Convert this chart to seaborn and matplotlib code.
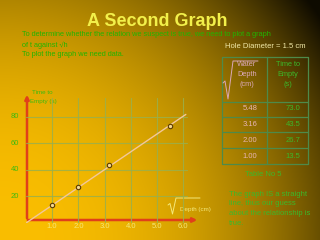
import numpy as np
import pandas as pd
import matplotlib
matplotlib.use("Agg")
import matplotlib.pyplot as plt
import seaborn as sns

# ---- data ----
sqrt_depth = [5.48, 3.16, 2.00, 1.00]
time_empty = [73.0, 43.5, 26.7, 13.5]
x_ticks = [1.0, 2.0, 3.0, 4.0, 5.0, 6.0]
y_ticks = [20, 40, 60, 80]
fit_x = [0.0, 6.1]
fit_y = [0.0, 81.6]

sns.set_style("white")
plt.rcParams['font.family'] = ['Liberation Sans', 'DejaVu Sans']

W, H = 320, 240
fig = plt.figure(figsize=(3.2, 2.4), dpi=100)

def fx(px):
    return px / W

def fy(py):
    return 1 - py / H

# background gradient (radial from bottom-left)
bg = fig.add_axes([0, 0, 1, 1])
yy, xx = np.mgrid[0:H, 0:W]
d = np.sqrt(xx ** 2 + (H - yy) ** 2) / np.sqrt(W ** 2 + H ** 2)
r = np.clip(1 - d ** 2.4, 0.06, 1)
base = np.array([250, 190, 0]) / 255.0
img = r[..., None] * base[None, None, :]
bg.imshow(img, extent=[0, W, H, 0], aspect='auto', zorder=0)
bg.set_xlim(0, W)
bg.set_ylim(H, 0)
bg.axis('off')

# chart axes
ax = fig.add_axes([fx(26), fy(223), 170.3 / W, 126.4 / H])
ax.set_facecolor('none')
ax.set_xlim(0, 6.5)
ax.set_ylim(0, 95)
for s in ax.spines.values():
    s.set_visible(False)
ax.set_xticks([])
ax.set_yticks([])

grid_c = '#9ab04c'
for xv in x_ticks:
    ax.plot([xv, xv], [0, 94], color=grid_c, lw=0.8, alpha=0.85, zorder=1)
for yv in y_ticks:
    ax.plot([0, 6.15], [yv, yv], color=grid_c, lw=0.8, alpha=0.85, zorder=1)

df_fit = pd.DataFrame({'x': fit_x, 'y': fit_y})
sns.lineplot(data=df_fit, x='x', y='y', ax=ax, color='#f2c79a', lw=1.0, zorder=2)
df = pd.DataFrame({'x': sqrt_depth, 'y': time_empty})
sns.scatterplot(data=df, x='x', y='y', ax=ax, s=10, marker='o',
                facecolor='#f5d890', edgecolor='#5a3a00', linewidth=0.8, zorder=3)
ax.set_xlabel('')
ax.set_ylabel('')

for xv in x_ticks:
    ax.text(xv, -2.6, f'{xv:.1f}', ha='center', va='center', fontsize=5.5,
            color='#f4e87a', clip_on=False)
for yv in y_ticks:
    ax.text(-0.25, yv, f'{yv}', ha='right', va='center', fontsize=5.5,
            color='#3dbb10', clip_on=False)

# red axes arrows (figure pixel coords)
red = '#e0401a'
bg.annotate('', xy=(27, 92), xytext=(27, 221),
            arrowprops=dict(arrowstyle='-|>', color=red, lw=1.8, mutation_scale=6))
bg.annotate('', xy=(200, 220), xytext=(25, 220),
            arrowprops=dict(arrowstyle='-|>', color=red, lw=1.8, mutation_scale=6))

# y label
bg.text(32, 93, 'Time to', fontsize=4.5, color='#3dbb10', va='center', ha='left')
bg.text(30, 101, 'Empty (s)', fontsize=4.5, color='#3dbb10', va='center', ha='left')

# x label with sqrt sign
bg.plot([168, 170, 172.5, 176, 200], [205, 203.5, 214, 198, 198], color='#f4e87a', lw=0.7)
bg.text(180, 210, 'Depth (cm)', fontsize=4.5, color='#f4e87a', va='center', ha='left')

# title
bg.text(157, 22, 'A Second Graph', fontsize=13, fontweight='bold', color='#f2f04a',
        ha='center', va='center')

# green intro text
green = '#22b400'
bg.text(22, 35, 'To determine whether the relation we suspect is true, we need to plot a graph',
        fontsize=5.3, color=green, va='center', ha='left')
bg.text(22, 45, 'of t against \u221ah', fontsize=5.3, color=green, va='center', ha='left')
bg.text(22, 55, 'To plot the graph we need data.', fontsize=5.3, color=green, va='center', ha='left')

bg.text(265, 47, 'Hole Diameter = 1.5 cm', fontsize=5.5, color='#f0e8a8',
        va='center', ha='center')

# table
tc = '#4e8a4a'
tl, tr, tm = 222, 308, 267
rows_y = [57, 102, 117, 132, 148, 164]
for yv in rows_y:
    bg.plot([tl, tr], [yv, yv], color=tc, lw=0.9)
for xv in (tl, tm, tr):
    bg.plot([xv, xv], [rows_y[0], rows_y[-1]], color=tc, lw=0.9)

pink = '#dba8b8'
tgreen = '#3cb82a'
bg.plot([223, 225, 228, 233, 258], [83, 81, 99, 61, 61], color=pink, lw=0.7)
for i, t in enumerate(['Water', 'Depth', '(cm)']):
    bg.text(247, 65 + i * 10, t, fontsize=5.3, color=pink, ha='center', va='center')
for i, t in enumerate(['Time to', 'Empty', '(s)']):
    bg.text(288, 65 + i * 10, t, fontsize=5.3, color=tgreen, ha='center', va='center')
val_y = [109, 125, 140, 156]
for i in range(len(sqrt_depth)):
    bg.text(250, val_y[i], f'{sqrt_depth[i]:.2f}', fontsize=5.5, color='#e8b4b4',
            ha='center', va='center')
    bg.text(293, val_y[i], f'{time_empty[i]:.1f}', fontsize=5.5, color=tgreen,
            ha='center', va='center')

bg.text(263, 174, 'Table No 5', fontsize=5.5, color=tgreen, ha='center', va='center')
for i, t in enumerate(['The graph IS a straight', 'line, thus our guess',
                       'about the relationship is', 'true.']):
    bg.text(229, 194 + i * 9.7, t, fontsize=5.5, color=tgreen, ha='left', va='center')

fig.savefig('out.png', dpi=100)
